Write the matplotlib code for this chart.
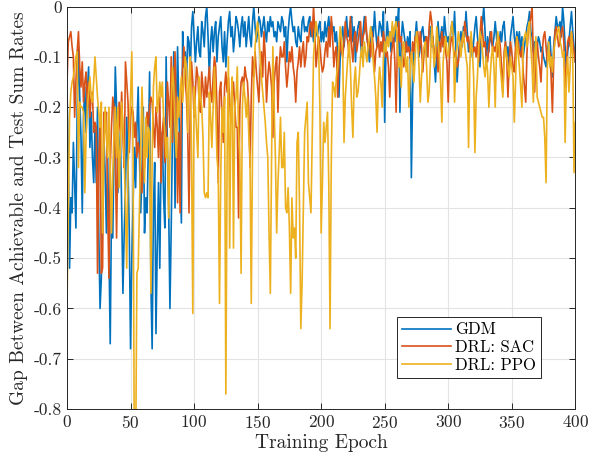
import matplotlib
matplotlib.use("Agg")
import matplotlib.pyplot as plt
import matplotlib.ticker as mticker
import numpy as np

plt.rcParams['font.family'] = ['cmr10', 'DejaVu Serif']
plt.rcParams['mathtext.fontset'] = 'cm'
plt.rcParams['axes.unicode_minus'] = False
plt.rcParams['axes.formatter.use_mathtext'] = True

# gap between achievable and test sum rates, one value per training epoch (0..400)
gdm = [
    -0.17, -0.30, -0.52, -0.38, -0.41, -0.27, -0.35, -0.44, -0.20, -0.08,
    -0.18, -0.26, -0.41, -0.22, -0.16, -0.25, -0.17, -0.12, -0.28, -0.21,
    -0.30, -0.35, -0.24, -0.35, -0.20, -0.45, -0.60, -0.54, -0.38, -0.26,
    -0.33, -0.45, -0.30, -0.48, -0.67, -0.40, -0.46, -0.28, -0.12, -0.20,
    -0.37, -0.30, -0.25, -0.40, -0.57, -0.45, -0.36, -0.22, -0.32, -0.45,
    -0.68, -0.50, -0.39, -0.28, -0.36, -0.24, -0.16, -0.30, -0.41, -0.33,
    -0.20, -0.45, -0.38, -0.41, -0.28, -0.13, -0.55, -0.68, -0.40, -0.31,
    -0.65, -0.48, -0.35, -0.52, -0.30, -0.25, -0.38, -0.44, -0.10, -0.28,
    -0.40, -0.60, -0.44, -0.25, -0.09, -0.40, -0.22, -0.08, -0.20, -0.30,
    -0.43, -0.05, -0.12, -0.09, -0.15, -0.06, -0.07, -0.13, -0.04, -0.01,
    -0.06, -0.11, -0.07, -0.04, -0.09, -0.10, -0.03, -0.05, -0.08, -0.02,
    0.00, -0.06, -0.14, -0.07, -0.04, -0.09, -0.05, -0.03, -0.11, -0.06,
    -0.04, -0.02, -0.08, -0.11, -0.05, -0.12, -0.07, -0.03, -0.01, -0.06,
    -0.04, -0.09, -0.06, -0.02, -0.03, -0.05, -0.08, -0.04, -0.02, -0.06,
    -0.03, -0.08, -0.05, -0.02, -0.06, -0.08, -0.03, 0.00, -0.04, -0.07,
    -0.05, -0.02, -0.03, -0.06, -0.04, -0.02, -0.05, -0.07, -0.03, -0.05,
    -0.02, -0.04, -0.03, -0.06, -0.05, -0.07, -0.03, -0.04, -0.05, -0.02,
    -0.03, -0.06, -0.04, -0.11, -0.05, -0.02, 0.00, -0.03, -0.05, -0.04,
    -0.07, -0.08, -0.04, -0.06, -0.07, -0.03, -0.02, -0.05, -0.04, -0.05,
    -0.03, -0.02, -0.06, -0.04, -0.07, -0.03, -0.05, -0.06, -0.04, -0.03,
    -0.07, -0.05, -0.07, -0.03, -0.06, -0.04, -0.02, -0.06, -0.03, -0.05,
    -0.04, -0.07, -0.05, -0.09, -0.18, -0.10, -0.06, -0.04, -0.08, -0.05,
    -0.02, -0.06, -0.05, -0.03, -0.02, -0.07, -0.04, -0.11, -0.06, -0.04,
    -0.03, -0.07, -0.10, -0.05, -0.02, -0.04, -0.06, -0.08, -0.11, -0.07,
    -0.04, -0.06, -0.01, -0.05, -0.08, -0.06, -0.03, -0.04, -0.06, -0.01,
    -0.23, -0.08, -0.03, -0.06, -0.05, -0.09, -0.04, -0.05, -0.07, -0.02,
    -0.04, 0.00, -0.21, -0.07, -0.03, -0.05, -0.07, -0.09, -0.06, -0.08,
    -0.05, -0.34, -0.17, -0.09, -0.06, -0.03, -0.07, -0.10, -0.08, -0.05,
    -0.04, -0.07, -0.06, -0.10, -0.08, -0.05, -0.04, -0.08, -0.06, -0.11,
    -0.15, -0.09, -0.03, -0.07, -0.06, -0.04, -0.08, -0.02, -0.05, -0.07,
    -0.06, -0.09, -0.05, -0.03, -0.06, -0.01, -0.08, -0.15, -0.10, -0.07,
    -0.05, -0.08, -0.04, -0.06, -0.01, -0.05, -0.09, -0.08, -0.06, -0.10,
    -0.07, -0.04, -0.02, -0.06, -0.08, -0.12, -0.06, -0.03, 0.00, -0.05,
    -0.11, -0.06, -0.09, -0.05, -0.07, -0.08, -0.06, -0.03, -0.06, -0.09,
    -0.08, -0.05, -0.07, -0.04, -0.03, -0.07, -0.10, -0.08, -0.12, -0.06,
    -0.04, -0.02, -0.06, -0.08, -0.05, -0.07, -0.05, -0.09, -0.06, -0.10,
    -0.08, -0.06, -0.04, -0.03, -0.01, -0.05, -0.06, -0.09, -0.07, -0.12,
    -0.08, -0.06, -0.07, -0.09, -0.08, -0.10, -0.11, -0.12, -0.09, -0.07,
    -0.06, -0.10, -0.14, -0.08, -0.05, -0.02, -0.04, -0.04, -0.03, -0.06,
    0.00, -0.03, -0.08, -0.13, -0.09, -0.07, -0.04, -0.01, -0.05, -0.08, -0.11,
]

sac = [
    -0.15, -0.07, -0.06, -0.05, -0.08, -0.10, -0.22, -0.15, -0.09, -0.05,
    -0.12, -0.16, -0.11, -0.19, -0.15, -0.13, -0.20, -0.15, -0.22, -0.18,
    -0.17, -0.25, -0.23, -0.24, -0.53, -0.30, -0.24, -0.53, -0.52, -0.21,
    -0.25, -0.21, -0.40, -0.54, -0.32, -0.24, -0.18, -0.20, -0.30, -0.46,
    -0.28, -0.19, -0.25, -0.17, -0.26, -0.32, -0.11, -0.15, -0.19, -0.29,
    -0.22, -0.20, -0.21, -0.26, -0.23, -0.30, -0.27, -0.29, -0.33, -0.37,
    -0.28, -0.32, -0.25, -0.21, -0.24, -0.20, -0.18, -0.19, -0.24, -0.28,
    -0.20, -0.24, -0.30, -0.18, -0.35, -0.25, -0.22, -0.31, -0.27, -0.15,
    -0.19, -0.24, -0.10, -0.27, -0.15, -0.09, -0.21, -0.39, -0.25, -0.41,
    -0.18, -0.12, -0.08, -0.14, -0.18, -0.25, -0.41, -0.20, -0.11, -0.15,
    -0.22, -0.17, -0.12, -0.14, -0.19, -0.21, -0.13, -0.16, -0.20, -0.14,
    -0.18, -0.15, -0.12, -0.17, -0.19, -0.14, -0.10, -0.12, -0.20, -0.35,
    -0.17, -0.15, -0.22, -0.27, -0.16, -0.13, -0.17, -0.14, -0.19, -0.23,
    -0.18, -0.15, -0.20, -0.24, -0.24, -0.42, -0.20, -0.15, -0.14, -0.16,
    -0.12, -0.14, -0.15, -0.20, -0.32, -0.18, -0.10, -0.14, -0.09, -0.13,
    -0.16, -0.19, -0.12, -0.09, -0.14, -0.05, -0.10, -0.19, -0.14, -0.11,
    -0.13, -0.16, -0.26, -0.15, -0.12, -0.10, -0.21, -0.12, -0.08, -0.10,
    -0.10, -0.07, -0.12, -0.16, -0.13, -0.09, -0.11, -0.08, -0.12, -0.14,
    -0.19, -0.13, -0.11, -0.08, -0.12, -0.09, -0.07, -0.12, -0.10, -0.06,
    -0.07, -0.04, -0.03, -0.06, 0.00, -0.05, -0.12, -0.09, -0.06, -0.08,
    -0.11, -0.13, -0.12, -0.09, -0.07, -0.10, -0.04, -0.08, -0.02, -0.06,
    -0.12, -0.09, -0.08, -0.18, -0.11, -0.06, -0.09, -0.10, -0.07, -0.03,
    -0.06, -0.07, -0.10, -0.02, -0.08, -0.11, -0.06, -0.05, -0.09, -0.07,
    -0.05, -0.03, -0.08, -0.06, -0.05, -0.02, -0.06, -0.08, -0.07, -0.10,
    -0.05, -0.08, -0.13, -0.09, -0.08, -0.06, -0.10, -0.07, -0.09, -0.05,
    -0.07, -0.10, -0.09, -0.12, -0.18, -0.10, -0.08, -0.06, -0.11, -0.21,
    -0.08, -0.03, -0.07, -0.06, -0.09, -0.12, -0.10, -0.07, -0.09, -0.08,
    -0.10, -0.11, -0.07, -0.09, -0.06, -0.07, -0.05, -0.09, -0.05, -0.08,
    -0.13, -0.09, -0.07, -0.06, -0.10, -0.04, -0.01, -0.03, -0.07, -0.09,
    -0.10, -0.08, -0.13, -0.07, -0.09, -0.05, -0.08, -0.06, -0.09, -0.11,
    -0.19, -0.10, -0.07, -0.06, -0.08, -0.10, -0.09, -0.12, -0.11, -0.08,
    -0.09, -0.06, -0.07, -0.03, -0.05, -0.07, -0.06, -0.09, -0.07, -0.08,
    -0.09, -0.08, -0.10, -0.07, -0.11, -0.06, -0.02, -0.05, -0.08, -0.07,
    -0.10, -0.11, -0.08, -0.06, -0.05, -0.09, -0.08, -0.09, -0.07, -0.10,
    -0.06, -0.08, -0.12, -0.17, -0.09, -0.07, -0.10, -0.18, -0.11, -0.07,
    -0.09, -0.12, -0.13, -0.08, -0.06, -0.07, -0.09, -0.10, -0.08, -0.13,
    -0.16, -0.19, -0.09, -0.05, -0.04, -0.02, 0.00, -0.10, -0.17, -0.09,
    -0.07, -0.10, -0.12, -0.15, -0.09, -0.06, -0.05, -0.08, -0.11, -0.10,
    -0.09, -0.14, -0.21, -0.11, -0.05, -0.04, -0.06, -0.08, -0.07, -0.05,
    -0.04, -0.07, -0.16, -0.12, -0.07, -0.06, -0.08, -0.05, -0.07, -0.09, -0.11,
]

ppo = [
    -0.59, -0.40, -0.22, -0.17, -0.15, -0.14, -0.12, -0.10, -0.09, -0.32,
    -0.19, -0.20, -0.20, -0.21, -0.37, -0.26, -0.20, -0.17, -0.14, -0.18,
    -0.19, -0.15, -0.10, -0.14, -0.18, -0.21, -0.24, -0.19, -0.45, -0.28,
    -0.20, -0.26, -0.30, -0.20, -0.33, -0.45, -0.33, -0.25, -0.20, -0.30,
    -0.20, -0.36, -0.28, -0.19, -0.24, -0.30, -0.40, -0.52, -0.32, -0.25,
    -0.18, -0.09, -0.30, -0.92, -0.90, -0.53, -0.52, -0.40, -0.28, -0.16,
    -0.25, -0.35, -0.22, -0.30, -0.24, -0.25, -0.57, -0.30, -0.16, -0.12,
    -0.10, -0.21, -0.19, -0.15, -0.18, -0.15, -0.22, -0.25, -0.30, -0.26,
    -0.42, -0.30, -0.20, -0.12, -0.16, -0.24, -0.30, -0.18, -0.22, -0.17,
    -0.14, -0.19, -0.15, -0.10, -0.12, -0.25, -0.15, -0.10, -0.30, -0.61,
    -0.16, -0.20, -0.25, -0.30, -0.14, -0.18, -0.20, -0.26, -0.37, -0.38,
    -0.37, -0.38, -0.17, -0.22, -0.28, -0.20, -0.12, -0.20, -0.30, -0.33,
    -0.59, -0.33, -0.20, -0.25, -0.18, -0.77, -0.30, -0.10, -0.48, -0.20,
    -0.14, -0.48, -0.20, -0.18, -0.12, -0.25, -0.30, -0.53, -0.20, -0.15,
    -0.18, -0.22, -0.18, -0.25, -0.30, -0.59, -0.28, -0.15, -0.08, -0.05,
    -0.03, -0.06, -0.10, -0.14, -0.17, -0.20, -0.23, -0.27, -0.30, -0.45,
    -0.57, -0.30, -0.08, -0.20, -0.30, -0.45, -0.35, -0.29, -0.22, -0.32,
    -0.32, -0.25, -0.40, -0.41, -0.36, -0.44, -0.57, -0.38, -0.46, -0.44,
    -0.50, -0.27, -0.25, -0.40, -0.64, -0.55, -0.40, -0.25, -0.22, -0.19,
    -0.35, -0.38, -0.41, -0.25, -0.10, -0.06, -0.03, -0.05, -0.08, -0.20,
    -0.45, -0.35, -0.23, -0.27, -0.24, -0.21, -0.35, -0.64, -0.30, -0.15,
    -0.16, -0.18, -0.14, -0.12, -0.08, -0.04, -0.06, -0.10, -0.27, -0.18,
    -0.14, -0.10, -0.07, -0.12, -0.20, -0.26, -0.15, -0.12, -0.18, -0.17,
    -0.14, -0.10, -0.08, -0.12, -0.07, -0.09, -0.11, -0.08, -0.06, -0.04,
    -0.07, -0.11, -0.14, -0.18, -0.25, -0.16, -0.12, -0.15, -0.20, -0.10,
    -0.07, -0.09, -0.06, -0.08, -0.05, -0.07, -0.03, -0.06, -0.04, -0.03,
    -0.08, -0.12, -0.10, -0.16, -0.09, -0.07, -0.10, -0.13, -0.10, -0.20,
    -0.14, -0.09, -0.11, -0.15, -0.10, -0.05, -0.07, -0.12, -0.19, -0.14,
    -0.10, -0.08, -0.07, -0.12, -0.19, -0.17, -0.11, -0.04, -0.08, -0.12,
    -0.09, -0.04, -0.07, -0.10, -0.15, -0.23, -0.11, -0.08, -0.06, -0.09,
    -0.10, -0.07, -0.05, -0.03, -0.06, -0.19, -0.10, -0.08, -0.05, -0.07,
    -0.10, -0.07, -0.05, -0.08, -0.10, -0.12, -0.28, -0.12, -0.05, -0.09,
    -0.14, -0.29, -0.18, -0.14, -0.08, -0.05, -0.06, -0.09, -0.12, -0.14,
    -0.10, -0.13, -0.20, -0.14, -0.10, -0.08, -0.12, -0.20, -0.09, -0.05,
    -0.08, -0.12, -0.15, -0.18, -0.11, -0.08, -0.10, -0.12, -0.14, -0.10,
    -0.12, -0.14, -0.23, -0.15, -0.06, -0.09, -0.12, -0.16, -0.20, -0.07,
    -0.06, -0.05, -0.08, -0.04, -0.03, -0.08, -0.12, -0.19, -0.10, -0.06,
    -0.18, -0.19, -0.20, -0.21, -0.22, -0.22, -0.26, -0.35, -0.12, -0.07,
    -0.12, -0.10, -0.13, -0.09, -0.07, -0.06, -0.05, -0.04, -0.07, -0.08,
    -0.10, -0.09, -0.27, -0.14, -0.10, -0.17, -0.12, -0.05, -0.10, -0.33, -0.23,
]

labels = ["GDM", "DRL: SAC", "DRL: PPO"]
colors = ["#0072BD", "#D95319", "#EDB120"]

fig = plt.figure(figsize=(5.91, 4.67), dpi=100)
ax = fig.add_axes([0.1134, 0.124, 0.86, 0.862])

for series, lab, col in zip([gdm, sac, ppo], labels, colors):
    ax.plot(np.arange(len(series)), series, color=col, lw=1.2, label=lab)

ax.set_xlim(0, 400)
ax.set_ylim(-0.8, 0)
ax.set_xticks(np.arange(0, 401, 50))
ax.set_yticks(np.arange(-0.8, 0.01, 0.1))
ax.yaxis.set_major_formatter(mticker.FuncFormatter(lambda v, p: f"{v:.1f}" if abs(v) > 1e-9 else "0"))
ax.grid(True, color="#e3e3e3", lw=0.8)
ax.set_axisbelow(True)
ax.tick_params(direction="in", top=True, right=True, length=4, width=0.7,
               colors="#262626", labelsize=12.5, labelcolor="#262626")
for sp in ax.spines.values():
    sp.set_color("#262626")
    sp.set_linewidth(0.7)

ax.set_xlabel("Training Epoch", fontsize=14, color="#262626", labelpad=2)
ax.set_ylabel("Gap Between Achievable and Test Sum Rates", fontsize=14, color="#262626", labelpad=4)

leg = ax.legend(loc="lower left", bbox_to_anchor=(0.65, 0.077), fontsize=12,
                handlelength=2.9, handletextpad=0.25, borderpad=0.3, labelspacing=0.15,
                fancybox=False, framealpha=1, edgecolor="#262626", borderaxespad=0)
leg.get_frame().set_linewidth(0.7)

fig.savefig("out.png", dpi=100)
